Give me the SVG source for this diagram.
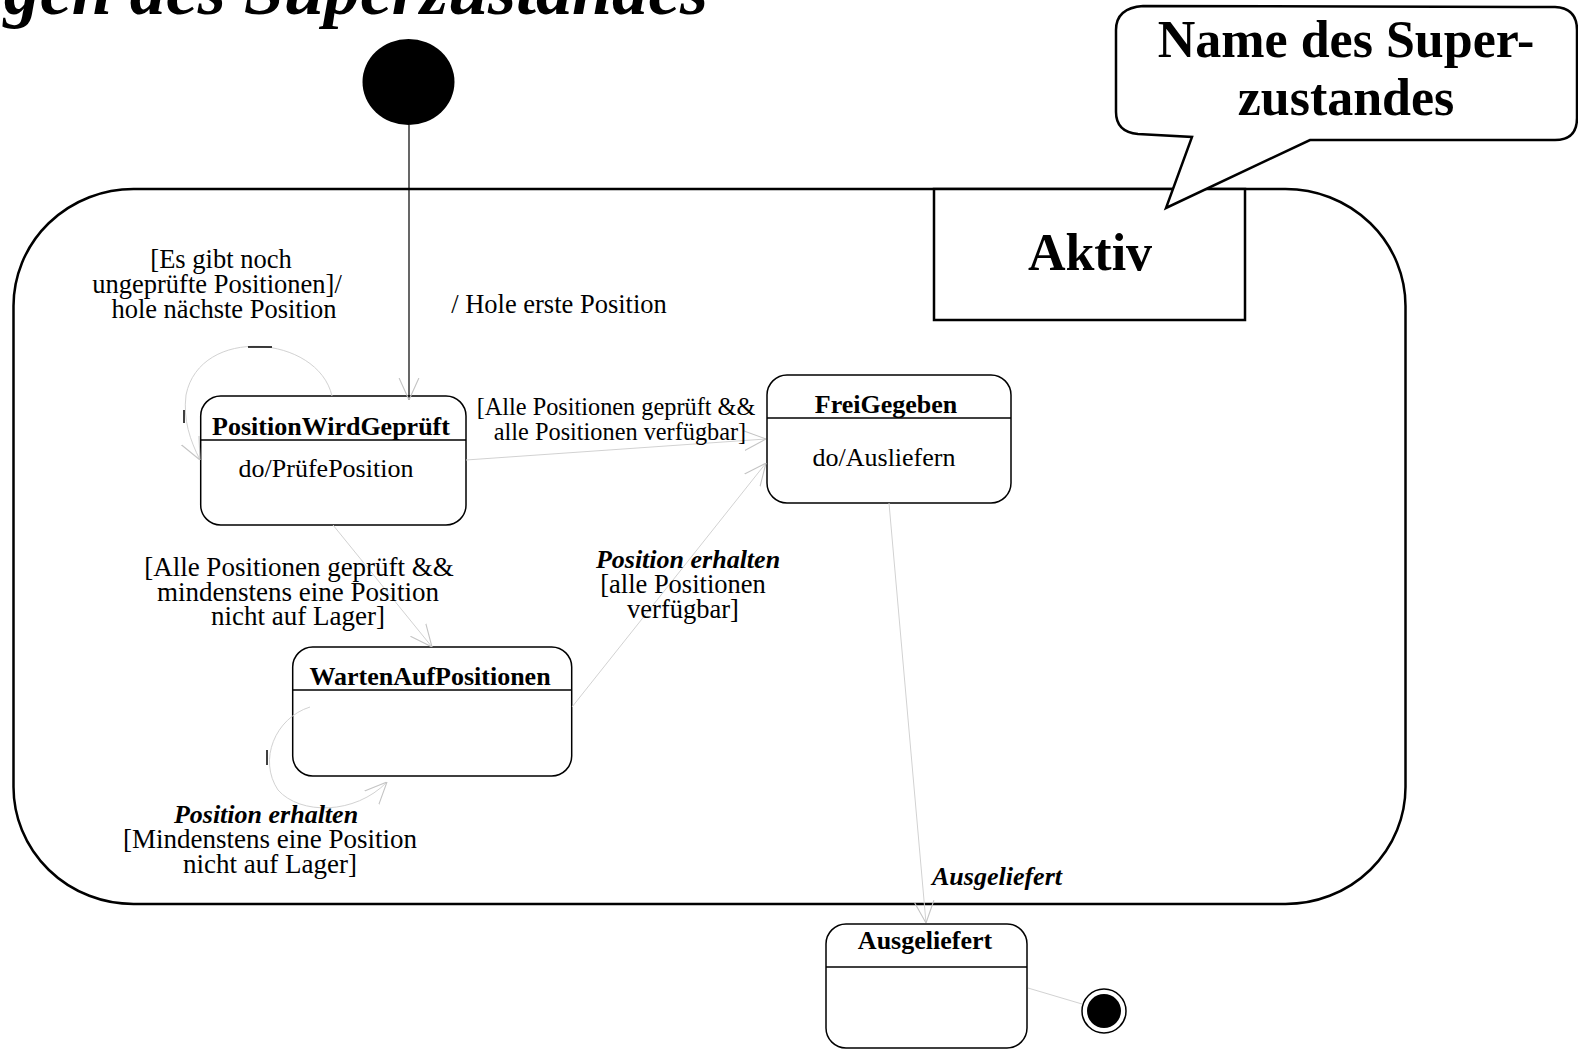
<svg xmlns="http://www.w3.org/2000/svg" width="1578" height="1050" viewBox="0 0 1578 1050">
<style>
.t{font-family:"Liberation Serif","Times New Roman",serif;font-size:26.5px;fill:#000;text-anchor:middle}
.b{font-weight:bold}
.i{font-style:italic}
.box{fill:#fff;stroke:#000;stroke-width:1.5}
.dv{stroke:#000;stroke-width:1.5}
.conn{fill:none;stroke:#d2d2d2;stroke-width:1}
.mark{stroke:#000;stroke-width:1.5}
</style>
<defs>
<marker id="arr" viewBox="0 0 20 20" refX="20" refY="10" markerWidth="22" markerHeight="22" markerUnits="userSpaceOnUse" orient="auto">
<path d="M0,1 L20,10 L0,19" fill="none" stroke="#c4c4c4" stroke-width="1"/>
</marker>
</defs>
<rect width="1578" height="1050" fill="#fff"/>
<text x="708" y="14" class="t b i" style="font-size:72px;text-anchor:end">gen des Superzustandes</text>

<g id="superstate">
<rect x="13.5" y="189" width="1392" height="715" rx="120" ry="117" fill="none" stroke="#000" stroke-width="2.5"/>
</g>
<g id="aktiv">
<rect x="934" y="189" width="311" height="131" fill="#fff" stroke="#000" stroke-width="2.5"/>
<text x="1090" y="270" class="t b" style="font-size:52px">Aktiv</text>
</g>
<g id="callout">
<path d="M1143,6 L1555,7 Q1577,8 1577,30 L1577,118 Q1577,140 1555,140 L1310,140 L1166,208 L1192,137 L1138,134 Q1116,132 1116,112 L1116,30 Q1116,8 1143,6 Z" fill="#fff" stroke="#000" stroke-width="2.5" stroke-linejoin="miter"/>
<text x="1346" y="57" class="t b" style="font-size:52px">Name des Super-</text>
<text x="1346" y="115" class="t b" style="font-size:52px">zustandes</text>
</g>

<g id="initial">
<ellipse cx="408.5" cy="82" rx="46" ry="43" fill="#000"/>
</g>
<g id="PositionWirdGeprueft">
<rect class="box" x="200.7" y="396" width="265.3" height="129" rx="20"/>
<line class="dv" x1="200.7" y1="440" x2="466" y2="440"/>
<text x="331" y="435" class="t b" style="font-size:26px">PositionWirdGeprüft</text>
<text x="326" y="477" class="t" style="font-size:26px">do/PrüfePosition</text>
</g>
<g id="FreiGegeben">
<rect class="box" x="767" y="375" width="244" height="128" rx="20"/>
<line class="dv" x1="767" y1="418" x2="1011" y2="418"/>
<text x="886" y="413" class="t b" style="font-size:26px">FreiGegeben</text>
<text x="884" y="466" class="t" style="font-size:26px">do/Ausliefern</text>
</g>
<g id="WartenAufPositionen">
<rect class="box" x="292.7" y="647" width="279" height="129" rx="20"/>
<line class="dv" x1="292.7" y1="690" x2="571.7" y2="690"/>
<text x="430" y="685" class="t b" style="font-size:26px">WartenAufPositionen</text>
</g>
<g id="Ausgeliefert">
<rect class="box" x="826" y="924" width="201" height="124" rx="20"/>
<line class="dv" x1="826" y1="967" x2="1027" y2="967"/>
<text x="925" y="949" class="t b" style="font-size:26px">Ausgeliefert</text>
</g>
<g id="final">
<circle cx="1104" cy="1011" r="22" fill="#fff" stroke="#000" stroke-width="1.5"/>
<circle cx="1104" cy="1011" r="17" fill="#000"/>
</g>

<g id="connectors">
<path d="M409,125 L409,400" fill="none" stroke="#000" stroke-width="1.2" marker-end="url(#arr)"/>
<path class="conn" d="M332,396 C318,335 200,325 186,395 C183,420 190,440 200,460" marker-end="url(#arr)"/>
<path class="conn" d="M466,460 L766,439" marker-end="url(#arr)"/>
<path class="conn" d="M333,525 L432,647" marker-end="url(#arr)"/>
<path class="conn" d="M572,707 L766,463" marker-end="url(#arr)"/>
<path class="conn" d="M310,707 C275,718 258,760 278,790 C300,815 355,815 387,782" marker-end="url(#arr)"/>
<path class="conn" d="M889,503 L926,923" marker-end="url(#arr)"/>
<path class="conn" d="M1028,988 L1082,1004"/>
<line class="mark" x1="248" y1="347" x2="272" y2="347"/>
<line class="mark" x1="184" y1="410" x2="184" y2="423"/>
<line class="mark" x1="267" y1="750" x2="267" y2="765"/>
</g>

<g id="labels">
<text class="t" x="221" y="268">[Es gibt noch</text>
<text class="t" x="217" y="293">ungeprüfte  Positionen]/</text>
<text class="t" x="224" y="318">hole nächste Position</text>
<text class="t" x="559" y="313">/ Hole erste Position</text>
<text class="t" x="616" y="415" style="font-size:24.3px">[Alle Positionen  geprüft &amp;&amp;</text>
<text class="t" x="620" y="440" style="font-size:24.3px">alle Positionen  verfügbar]</text>
<text class="t" x="299" y="576" style="font-size:27px">[Alle Positionen  geprüft  &amp;&amp;</text>
<text class="t" x="298" y="601" style="font-size:27px">mindenstens  eine Position</text>
<text class="t" x="298" y="625" style="font-size:27px">nicht  auf  Lager]</text>
<text class="t b i" x="688" y="568" style="font-size:26px">Position  erhalten</text>
<text class="t" x="683" y="593">[alle Positionen</text>
<text class="t" x="683" y="618">verfügbar]</text>
<text class="t b i" x="266" y="823" style="font-size:26px">Position  erhalten</text>
<text class="t" x="270" y="848" style="font-size:27px">[Mindenstens  eine Position</text>
<text class="t" x="270" y="873" style="font-size:27px">nicht  auf  Lager]</text>
<text class="t b i" x="997" y="885" style="font-size:26px">Ausgeliefert</text>
</g>
</svg>
